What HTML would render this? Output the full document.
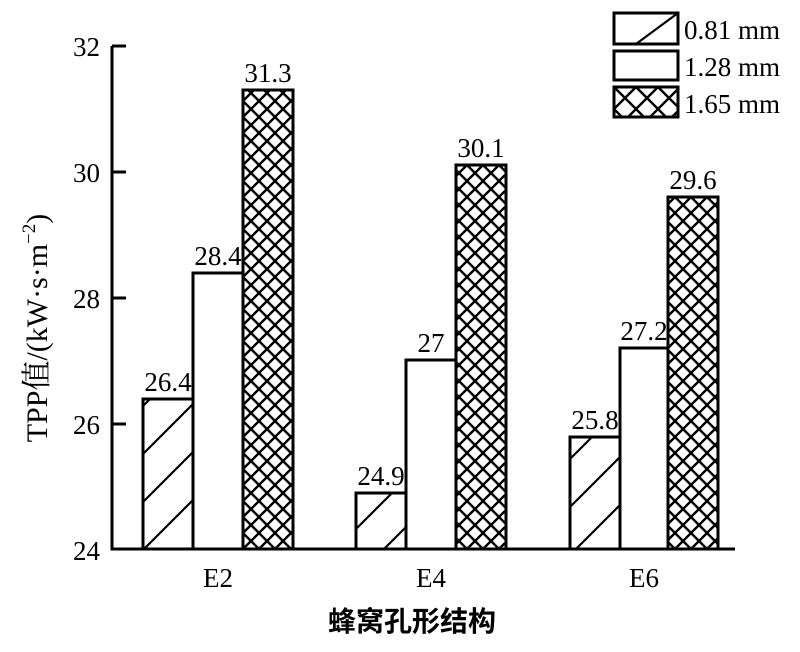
<!DOCTYPE html>
<html><head><meta charset="utf-8"><style>
body{margin:0;background:#fff}
text{font-family:"Liberation Serif","Noto Serif CJK SC",serif;fill:#000}
</style></head><body>
<svg width="800" height="647" viewBox="0 0 800 647" xmlns="http://www.w3.org/2000/svg">
<defs>
<pattern id="diag" patternUnits="userSpaceOnUse" width="48" height="48" x="0" y="549">
<path d="M0,48 L48,0 M-4,4 L4,-4 M44,52 L52,44" stroke="#000" stroke-width="2.2"/>
</pattern>
<pattern id="cross" patternUnits="userSpaceOnUse" width="16" height="16" x="3" y="5">
<path d="M0,0 L16,16 M16,0 L0,16" stroke="#000" stroke-width="2.4"/>
</pattern>
<pattern id="crossL" patternUnits="userSpaceOnUse" width="22" height="22" x="614" y="87">
<path d="M0,0 L22,22 M22,0 L0,22" stroke="#000" stroke-width="2.4"/>
</pattern>
</defs>
<g stroke="#000" stroke-width="3" fill="none">
<path d="M112,46 L112,549 L735,549"/>
<path d="M112,46 H126 M112,172 H126 M112,298 H126 M112,424 H126"/>
</g>
<g font-size="27" text-anchor="end">
<text x="100" y="56">32</text>
<text x="100" y="182">30</text>
<text x="100" y="308">28</text>
<text x="100" y="434">26</text>
<text x="100" y="560">24</text>
</g>
<g stroke="#000" stroke-width="3">
<rect x="143" y="399" width="50" height="150" fill="url(#diag)"/>
<rect x="193" y="273" width="50" height="276" fill="#fff"/>
<rect x="243" y="90" width="50" height="459" fill="url(#cross)"/>
<rect x="356" y="493" width="50" height="56" fill="url(#diag)"/>
<rect x="406" y="360" width="50" height="189" fill="#fff"/>
<rect x="456" y="165" width="50" height="384" fill="url(#cross)"/>
<rect x="570" y="437" width="50" height="112" fill="url(#diag)"/>
<rect x="620" y="348" width="48" height="201" fill="#fff"/>
<rect x="668" y="197" width="50" height="352" fill="url(#cross)"/>
</g>
<g font-size="27" text-anchor="middle">
<text x="168" y="391">26.4</text>
<text x="218" y="265">28.4</text>
<text x="268" y="82">31.3</text>
<text x="381" y="485">24.9</text>
<text x="431" y="352">27</text>
<text x="481" y="157">30.1</text>
<text x="595" y="429">25.8</text>
<text x="644" y="340">27.2</text>
<text x="693" y="189">29.6</text>
<text x="218" y="587">E2</text>
<text x="431" y="587">E4</text>
<text x="644" y="587">E6</text>
</g>
<text x="412" y="631" font-size="28" text-anchor="middle" font-weight="bold" style="font-family:'Noto Sans CJK SC',sans-serif">蜂窝孔形结构</text>
<text transform="translate(47,328) rotate(-90)" font-size="30" text-anchor="middle">TPP值/(kW·s·m<tspan font-size="19" dy="-12">−2</tspan><tspan dy="12">)</tspan></text>
<g stroke="#000" stroke-width="3">
<rect x="614" y="13" width="64" height="31" fill="#fff"/>
<path d="M636,44 L678,13" stroke-width="2.2"/>
<rect x="614" y="51" width="64" height="29" fill="#fff"/>
<rect x="614" y="87" width="64" height="30" fill="url(#crossL)"/>
</g>
<g font-size="27">
<text x="684" y="39">0.81 mm</text>
<text x="684" y="76">1.28 mm</text>
<text x="684" y="113">1.65 mm</text>
</g>
</svg>
</body></html>
